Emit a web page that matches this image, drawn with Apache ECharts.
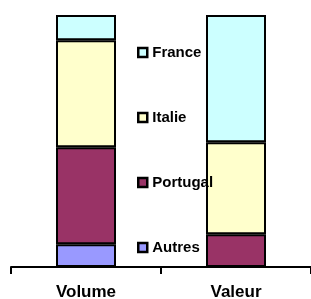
<!DOCTYPE html>
<html><head><meta charset="utf-8">
<script src="https://cdn.jsdelivr.net/npm/echarts@6/dist/echarts.min.js"></script>
<style>html,body{margin:0;padding:0;background:#fff}#c{width:311px;height:299px}</style>
</head><body><div id="c"></div>
<script>
var categories = ['Volume', 'Valeur'];
var seriesNames = ['Autres', 'Portugal', 'Italie', 'France'];
var autres = [9, 0];
var portugal = [38.5, 13];
var italie = [42.5, 36.5];
var france = [10, 50.5];
var colors = ['#9999FF', '#993366', '#FFFFCC', '#CCFFFF'];
var values = [autres, portugal, italie, france];

var chart = echarts.init(document.getElementById('c'), null, {renderer: 'canvas'});
var series = seriesNames.map(function (n, i) {
  return {
    name: n, type: 'bar', stack: 't', barWidth: '40%',
    data: values[i],
    itemStyle: {color: colors[i], borderColor: '#000', borderWidth: 2},
    emphasis: {disabled: true}
  };
});
chart.setOption({
  animation: false,
  grid: {left: 11, right: 0, top: 15, bottom: 32, containLabel: false, outerBoundsMode: 'none'},
  xAxis: {
    type: 'category', data: categories,
    axisLine: {lineStyle: {color: '#000', width: 2}},
    axisTick: {show: true, length: 7, lineStyle: {color: '#000', width: 2}},
    axisLabel: {color: '#000', fontFamily: 'Liberation Sans, Arial', fontWeight: 'bold', fontSize: 17, margin: 17}
  },
  yAxis: {type: 'value', min: 0, max: 100, show: false, splitLine: {show: false}},
  legend: {
    orient: 'vertical', left: 132, top: 40, padding: 5, itemGap: 50,
    itemWidth: 9, itemHeight: 9, icon: 'rect',
    data: ['France', 'Italie', 'Portugal', 'Autres'],
    itemStyle: {borderColor: '#000', borderWidth: 2.5},
    textStyle: {color: '#000', fontFamily: 'Liberation Sans, Arial', fontWeight: 'bold', fontSize: 15},
    selectedMode: false
  },
  series: series
});
</script></body></html>
